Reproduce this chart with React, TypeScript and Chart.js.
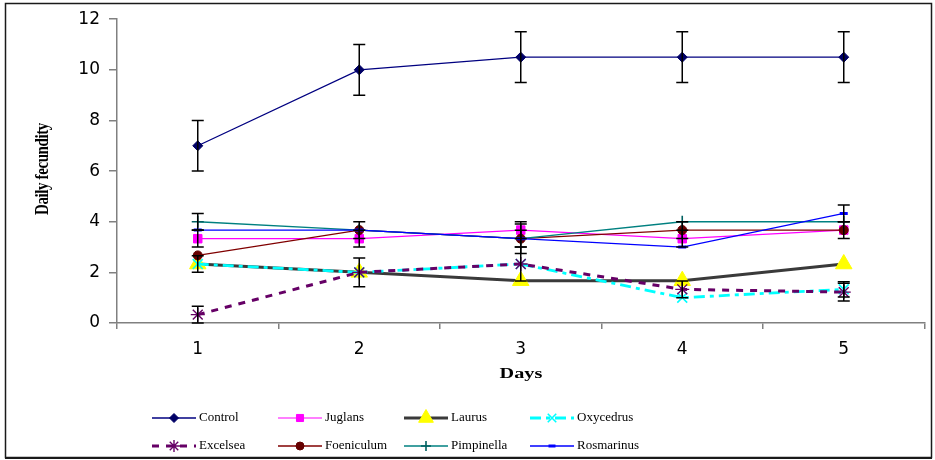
import React, { useEffect, useRef } from 'react';
import { Chart, registerables } from 'chart.js';
import { drawPoint } from 'chart.js/helpers';

Chart.register(...registerables);

const days = ['1', '2', '3', '4', '5'];
const yTicks = [0, 2, 4, 6, 8, 10, 12];

const control = [7, 10, 10.5, 10.5, 10.5];
const controlErr = [1, 1, 1, 1, 1];
const juglans = [3.33, 3.33, 3.67, 3.33, 3.67];
const juglansErr = [0.33, 0.33, 0.33, 0.33, 0];
const laurus = [2.33, 2.0, 1.67, 1.67, 2.33];
const laurusErr = [0, 0, 0, 0, 0];
const oxycedrus = [2.33, 2.0, 2.33, 1.0, 1.33];
const oxycedrusErr = [0.33, 0, 0, 0, 0.3];
const excelsea = [0.33, 2.0, 2.33, 1.33, 1.22];
const excelseaErr = [0.33, 0.57, 0.67, 0.33, 0.35];
const foeniculum = [2.67, 3.67, 3.33, 3.67, 3.67];
const foeniculumErr = [0, 0.33, 0.58, 0.33, 0.33];
const pimpinella = [4.0, 3.67, 3.33, 4.0, 4.0];
const pimpinellaErr = [0.33, 0, 0.33, 0, 0];
const rosmarinus = [3.67, 3.67, 3.33, 3.0, 4.33];
const rosmarinusErr = [0, 0, 0, 0, 0.33];

const seriesNames = ['Control', 'Juglans', 'Laurus', 'Oxycedrus', 'Excelsea', 'Foeniculum', 'Pimpinella', 'Rosmarinus'];
const seriesValues = [control, juglans, laurus, oxycedrus, excelsea, foeniculum, pimpinella, rosmarinus];
const seriesErrors = [controlErr, juglansErr, laurusErr, oxycedrusErr, excelseaErr, foeniculumErr, pimpinellaErr, rosmarinusErr];

const styles = [
  { color: '#000080', width: 1.3, dash: [], point: 'rectRot', radius: 5, legendRadius: 4.5, fill: '#000066', border: '#000066', bw: 1 },
  { color: '#FF00FF', width: 1.2, dash: [], point: 'rect', radius: 6, legendRadius: 5, fill: '#FF00FF', border: '#FF00FF', bw: 1 },
  { color: '#3a3a3a', width: 3, dash: [], point: 'triangle', radius: 9.5, legendRadius: 8.5, fill: '#FFFF00', border: '#FFFF00', bw: 1 },
  { color: '#00FFFF', width: 2.8, dash: [11, 5, 4, 5], point: 'crossRot', radius: 7, legendRadius: 6, fill: '#00FFFF', border: '#00FFFF', bw: 1.6 },
  { color: '#660066', width: 3, dash: [7, 7], point: 'star', radius: 7, legendRadius: 6, fill: '#660066', border: '#660066', bw: 1.4 },
  { color: '#800000', width: 1.3, dash: [], point: 'circle', radius: 4.5, legendRadius: 4, fill: '#660000', border: '#660000', bw: 1 },
  { color: '#008080', width: 1.3, dash: [], point: 'cross', radius: 6, legendRadius: 5, fill: '#006060', border: '#006060', bw: 1.6 },
  { color: '#0000FF', width: 1.3, dash: [], point: 'line', radius: 4, legendRadius: 3.5, fill: '#0000FF', border: '#0000FF', bw: 3 },
];

const legendCols = [152, 278, 404, 530];
const legendRows = [418, 446];

const framePlugin = {
  id: 'frame',
  beforeDraw(chart: any) {
    const ctx = chart.ctx;
    ctx.save();
    ctx.fillStyle = '#ffffff';
    ctx.fillRect(0, 0, chart.width, chart.height);
    ctx.restore();
  },
  afterDraw(chart: any) {
    const ctx = chart.ctx;
    ctx.save();
    ctx.strokeStyle = '#1a1a1a';
    ctx.lineWidth = 1.5;
    ctx.strokeRect(5.5, 3.5, 926, 454);
    ctx.lineWidth = 2;
    ctx.beginPath();
    ctx.moveTo(5, 458);
    ctx.lineTo(932, 458);
    ctx.stroke();

    // y title
    ctx.fillStyle = '#000';
    ctx.save();
    ctx.translate(43, 169);
    ctx.rotate(-Math.PI / 2);
    ctx.scale(1, 1.25);
    ctx.font = 'bold 15px "Liberation Serif", serif';
    (ctx as any).letterSpacing = '-0.4px';
    ctx.textAlign = 'center';
    ctx.textBaseline = 'middle';
    ctx.fillText('Daily fecundity', 0, 0);
    ctx.restore();

    // x title
    ctx.save();
    ctx.translate(521, 374);
    ctx.scale(1.35, 1);
    ctx.font = 'bold 15px "Liberation Serif", serif';
    ctx.textAlign = 'center';
    ctx.textBaseline = 'middle';
    ctx.fillText('Days', 0, 0);
    ctx.restore();

    // legend
    seriesNames.forEach((name, i) => {
      const st = styles[i];
      const x0 = legendCols[i % 4];
      const y0 = legendRows[Math.floor(i / 4)];
      const x1 = x0 + 44;
      ctx.save();
      ctx.strokeStyle = st.color;
      ctx.lineWidth = st.width;
      ctx.setLineDash(st.dash);
      ctx.beginPath();
      ctx.moveTo(x0, y0);
      ctx.lineTo(x1, y0);
      ctx.stroke();
      ctx.setLineDash([]);
      ctx.fillStyle = st.fill;
      ctx.strokeStyle = st.border;
      ctx.lineWidth = st.bw;
      drawPoint(ctx, { pointStyle: st.point, radius: st.legendRadius, rotation: 0, borderWidth: st.bw } as any, x0 + 22, y0);
      ctx.restore();
      ctx.save();
      ctx.fillStyle = '#000';
      ctx.font = '13px "Liberation Serif", serif';
      ctx.textAlign = 'left';
      ctx.textBaseline = 'middle';
      ctx.fillText(name, x1 + 3, y0);
      ctx.restore();
    });
    ctx.restore();
  },
};

const errorBarPlugin = {
  id: 'errorBars',
  afterDatasetsDraw(chart: any) {
    const ctx = chart.ctx;
    const yScale = chart.scales.y;
    ctx.save();
    ctx.strokeStyle = '#000';
    ctx.lineWidth = 1.5;
    chart.data.datasets.forEach((ds: any, i: number) => {
      const meta = chart.getDatasetMeta(i);
      const errs = seriesErrors[i];
      meta.data.forEach((pt: any, j: number) => {
        const e = errs[j];
        if (!e) return;
        const v = ds.data[j];
        const yt = yScale.getPixelForValue(v + e);
        const yb = yScale.getPixelForValue(v - e);
        const x = pt.x;
        ctx.beginPath();
        ctx.moveTo(x, yt);
        ctx.lineTo(x, yb);
        ctx.moveTo(x - 6, yt);
        ctx.lineTo(x + 6, yt);
        ctx.moveTo(x - 6, yb);
        ctx.lineTo(x + 6, yb);
        ctx.stroke();
      });
    });
    ctx.restore();
  },
};

export default function App() {
  const ref = useRef<HTMLCanvasElement | null>(null);
  useEffect(() => {
    document.body.style.margin = '0';
    const canvas = ref.current!;
    const chart = new Chart(canvas, {
      type: 'line',
      data: {
        labels: days,
        datasets: seriesNames.map((name, i) => {
          const st = styles[i];
          return {
            label: name,
            data: seriesValues[i],
            borderColor: st.color,
            borderWidth: st.width,
            borderDash: st.dash,
            backgroundColor: st.fill,
            pointStyle: st.point as any,
            pointRadius: st.radius,
            pointBackgroundColor: st.fill,
            pointBorderColor: st.border,
            pointBorderWidth: st.bw,
            fill: false,
            tension: 0,
            order: 7 - i,
          };
        }),
      },
      options: {
        animation: false,
        responsive: false,
        devicePixelRatio: 1,
        layout: { padding: { left: 0, right: 8, top: 17, bottom: 97 } },
        plugins: { legend: { display: false }, tooltip: { enabled: false } },
        scales: {
          x: {
            type: 'category',
            offset: true,
            grid: { offset: true, drawOnChartArea: false, drawTicks: true, tickLength: 6, color: '#808080', lineWidth: 1.5 },
            border: { color: '#808080', width: 1.5 },
            ticks: { color: '#000', font: { family: '"DejaVu Sans", sans-serif', size: 17 }, padding: 10, maxRotation: 0 },
            afterFit: (s: any) => { s.height = 40; },
          },
          y: {
            min: 0,
            max: 12,
            afterBuildTicks: (s: any) => { s.ticks = yTicks.map((v) => ({ value: v })); },
            grid: { drawOnChartArea: false, drawTicks: true, tickLength: 8, color: '#808080', lineWidth: 1.5 },
            border: { color: '#808080', width: 1.5 },
            ticks: { color: '#000', font: { family: '"DejaVu Sans", sans-serif', size: 17 }, padding: 9 },
            afterFit: (s: any) => { s.width = 117; },
          },
        },
      },
      plugins: [framePlugin, errorBarPlugin],
    });
    return () => chart.destroy();
  }, []);
  return (
    <div style={{ width: 935, height: 460 }}>
      <canvas ref={ref} width={935} height={460} style={{ display: 'block' }} />
    </div>
  );
}
